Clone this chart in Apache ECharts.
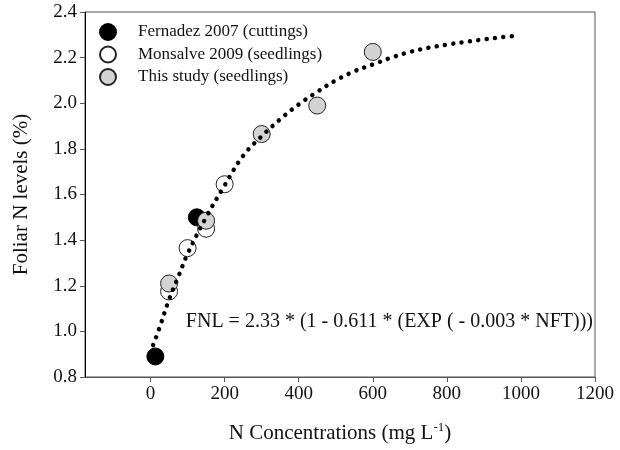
<!DOCTYPE html>
<html>
<head>
<meta charset="utf-8">
<script src="https://cdn.jsdelivr.net/npm/echarts@6/dist/echarts.min.js"></script>
<style>html,body{margin:0;padding:0;background:#fff}#c{width:620px;height:450px}</style>
</head>
<body>
<div id="c"></div>
<script>
// Data
const fernandezX = [13, 125];
const fernandezY = [0.89, 1.50];
const monsalveX = [50, 100, 150, 200];
const monsalveY = [1.175, 1.365, 1.45, 1.645];
const studyX = [50, 150, 300, 450, 600];
const studyY = [1.21, 1.485, 1.865, 1.99, 2.225];
// dotted fitted curve
const curveX = [7, 25, 50, 75, 100, 150, 200, 250, 300, 350, 400, 450, 500, 550, 600, 650, 700, 750, 800, 850, 900, 950, 985];
const curveY = [0.94, 1.02, 1.14, 1.24, 1.34, 1.50, 1.64, 1.77, 1.855, 1.93, 1.995, 2.05, 2.10, 2.14, 2.17, 2.20, 2.225, 2.243, 2.257, 2.269, 2.28, 2.29, 2.295];
const xTicks = [0, 200, 400, 600, 800, 1000, 1200];
const yTicks = [0.8, 1.0, 1.2, 1.4, 1.6, 1.8, 2.0, 2.2, 2.4];
const seriesNames = ['Fernadez 2007 (cuttings)', 'Monsalve 2009 (seedlings)', 'This study (seedlings)'];
const equationText = 'FNL = 2.33 * (1 - 0.611 * (EXP ( - 0.003 * NFT)))';

const FONT = 'Liberation Serif';
const pair = (xs, ys) => xs.map((x, i) => [x, ys[i]]);

const chart = echarts.init(document.getElementById('c'), null, {renderer: 'canvas'});
chart.setOption({
  animation: false,
  backgroundColor: '#fff',
  grid: {left: 85, right: 25, top: 12, bottom: 68.5, show: true, borderColor: '#555', borderWidth: 1, backgroundColor: 'transparent'},
  legend: {
    orient: 'vertical', left: 99, top: 23, padding: 0, itemWidth: 16, itemHeight: 16, itemGap: 4.5,
    data: seriesNames,
    textStyle: {fontFamily: FONT, fontSize: 17, color: '#111', lineHeight: 16, height: 16, padding: [0, 0, 0, 17]}
  },
  xAxis: {
    type: 'value', min: -177, max: 1200,
    name: 'N Concentrations (mg L{sup|-1})', nameLocation: 'middle', nameGap: 44,
    nameTextStyle: {fontFamily: FONT, fontSize: 21, color: '#111', lineHeight: 24,
      rich: {sup: {fontFamily: FONT, fontSize: 13, verticalAlign: 'top', lineHeight: 24}}},
    splitLine: {show: false},
    axisLine: {show: true, onZero: false, lineStyle: {color: '#555', width: 1}},
    axisTick: {show: true, length: 5, inside: false, customValues: xTicks, lineStyle: {color: '#555'}},
    axisLabel: {customValues: xTicks, fontFamily: FONT, fontSize: 19, color: '#111', margin: 8, formatter: v => String(v)}
  },
  yAxis: {
    type: 'value', min: 0.8, max: 2.4, interval: 0.2,
    name: 'Foliar N levels (%)', nameLocation: 'middle', nameGap: 53, nameRotate: 90,
    nameTextStyle: {fontFamily: FONT, fontSize: 21, color: '#111'},
    splitLine: {show: false},
    axisLine: {show: true, onZero: false, lineStyle: {color: '#000', width: 1}},
    axisTick: {show: true, length: 5, inside: false, lineStyle: {color: '#555'}},
    axisLabel: {fontFamily: FONT, fontSize: 19, color: '#111', margin: 8, formatter: v => v.toFixed(1)}
  },
  graphic: [{
    type: 'text', right: 27, top: 312,
    style: {text: equationText, font: '20px "Liberation Serif"', fill: '#111'}
  }],
  series: [
    {name: seriesNames[0], type: 'scatter', data: pair(fernandezX, fernandezY), symbol: 'circle', symbolSize: 17,
      itemStyle: {color: '#000', borderColor: '#000', borderWidth: 1, opacity: 1}, z: 2},
    {name: seriesNames[1], type: 'scatter', data: pair(monsalveX, monsalveY), symbol: 'circle', symbolSize: 17,
      itemStyle: {color: '#fff', borderColor: '#222', borderWidth: 1, opacity: 1}, z: 3},
    {name: seriesNames[2], type: 'scatter', data: pair(studyX, studyY), symbol: 'circle', symbolSize: 17,
      itemStyle: {color: '#d3d3d3', borderColor: '#222', borderWidth: 1, opacity: 1}, z: 4},
    {name: 'fit', type: 'line', data: pair(curveX, curveY), showSymbol: false, symbol: 'none', smooth: 0.4,
      lineStyle: {color: '#000', width: 4.5, type: [0.01, 8.4], cap: 'round'}, z: 5, silent: true}
  ]
});
</script>
</body>
</html>
